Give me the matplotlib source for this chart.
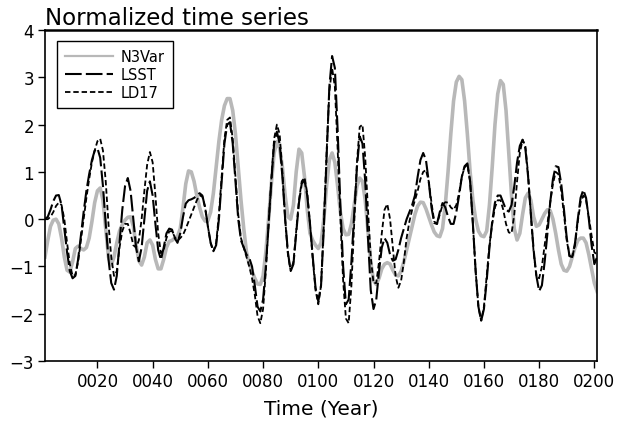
import numpy as np
from matplotlib import pyplot as plt

# yearly values (year 1..201)
years = np.arange(1, 202)

n3var = [
    -0.8, -0.45, -0.15, -0.02, 0.0, -0.1, -0.4, -0.8, -1.08, -1.12,
    -0.9, -0.62, -0.57, -0.62, -0.65, -0.6, -0.4, -0.05, 0.35, 0.6,
    0.66, 0.4, -0.2, -0.8, -0.97, -0.8, -0.5, -0.25, -0.12, -0.02,
    0.04, 0.05, -0.15, -0.55, -0.88, -0.97, -0.8, -0.5, -0.44, -0.55,
    -0.85, -1.05, -1.05, -0.85, -0.6, -0.47, -0.45, -0.4, -0.36, -0.2,
    0.25, 0.75, 1.02, 1.0, 0.8, 0.5, 0.25, 0.05, -0.04, -0.03,
    0.15, 0.55, 1.1, 1.65, 2.1, 2.4, 2.55, 2.55, 2.3, 1.8,
    1.1, 0.4, -0.2, -0.7, -0.95, -1.1, -1.25, -1.37, -1.38, -1.2,
    -0.7, 0.0, 0.75, 1.4, 1.64, 1.5, 1.1, 0.5, 0.05, 0.0,
    0.3, 1.0, 1.48, 1.4, 0.9, 0.2, -0.3, -0.45, -0.55, -0.62,
    -0.5, 0.0, 0.7, 1.25, 1.4, 1.2, 0.7, 0.15, -0.2, -0.33,
    -0.32, -0.1, 0.3, 0.7, 0.87, 0.8, 0.4, -0.25, -0.9, -1.3,
    -1.38, -1.25, -1.05, -0.95, -0.92, -0.95, -1.08, -1.18, -1.2, -1.1,
    -0.9, -0.65, -0.4, -0.15, 0.1, 0.28, 0.36, 0.35, 0.22, 0.05,
    -0.12, -0.27, -0.35, -0.37, -0.2, 0.3, 1.0, 1.8, 2.5, 2.9,
    3.02, 2.95, 2.5, 1.8, 1.0, 0.4, 0.0, -0.25, -0.35, -0.37,
    -0.25, 0.3, 1.1, 2.0, 2.65, 2.93, 2.85, 2.3, 1.4, 0.5,
    -0.2, -0.44, -0.3, 0.1, 0.45, 0.55, 0.4, 0.05, -0.15, -0.12,
    0.0, 0.12, 0.2, 0.18, 0.0, -0.3, -0.65, -0.95, -1.08, -1.1,
    -1.0, -0.8, -0.6, -0.45, -0.4, -0.4, -0.5, -0.75, -1.05, -1.35,
    -1.53,
]

lsst = [
    0.0, 0.05, 0.2, 0.38, 0.5, 0.51, 0.3, -0.2, -0.7, -1.1,
    -1.25, -1.2, -0.85, -0.35, 0.15, 0.6, 0.95, 1.25, 1.45, 1.5,
    1.3, 0.7, -0.1, -0.85, -1.35, -1.49, -1.2, -0.5, 0.2, 0.7,
    0.87, 0.6, 0.0, -0.6, -0.89, -0.6, 0.0, 0.6, 0.8, 0.5,
    -0.1, -0.65, -0.86, -0.6, -0.3, -0.2, -0.22, -0.4, -0.5, -0.3,
    0.05, 0.33, 0.4, 0.42, 0.45, 0.5, 0.55, 0.5, 0.25, -0.15,
    -0.5, -0.68, -0.55, 0.0, 0.8, 1.6, 2.0, 2.05, 1.6, 0.8,
    0.0, -0.45, -0.6, -0.75, -0.82, -1.0, -1.4, -1.85, -1.95, -1.7,
    -1.0, -0.1, 0.8, 1.6, 1.85, 1.6, 0.9, 0.0, -0.7, -1.1,
    -0.95, -0.3, 0.35, 0.75, 0.83, 0.5, -0.1, -0.8, -1.45, -1.74,
    -1.4, -0.2, 1.3, 2.8, 3.45, 3.2, 1.9, 0.3, -1.0, -1.8,
    -1.7, -0.9, 0.1, 1.1, 1.75, 1.6, 0.8, -0.4, -1.5, -1.9,
    -1.7, -1.1, -0.6, -0.4, -0.5, -0.75, -0.88, -0.85, -0.65, -0.4,
    -0.2, 0.0, 0.15, 0.3, 0.5, 0.9, 1.25, 1.4, 1.25, 0.8,
    0.25, -0.08, -0.1, 0.15, 0.34, 0.25, 0.05, -0.1, -0.1, 0.15,
    0.5, 0.9, 1.12, 1.18, 0.8, -0.1, -1.1, -1.85, -2.15, -1.9,
    -1.3, -0.6, -0.05, 0.35, 0.5, 0.5, 0.35, 0.2, 0.16, 0.3,
    0.7, 1.2, 1.55, 1.68, 1.5, 0.9, 0.1, -0.65, -1.2, -1.52,
    -1.4, -0.9, -0.3, 0.35, 0.85, 1.12, 1.1, 0.75, 0.2, -0.4,
    -0.78, -0.8, -0.5, 0.0, 0.45, 0.62, 0.45, 0.0, -0.55, -0.95,
    -0.8,
]

ld17 = [
    0.0, 0.0, 0.05, 0.15, 0.28, 0.35, 0.3, 0.0, -0.5, -0.95,
    -1.2, -1.18, -0.9, -0.45, 0.0, 0.45, 0.85, 1.2, 1.45, 1.65,
    1.7, 1.45, 0.8, -0.1, -0.8, -1.2, -1.1, -0.6, -0.25, -0.1,
    -0.1, -0.3, -0.55, -0.6, -0.45, 0.0, 0.6, 1.15, 1.42, 1.2,
    0.5, -0.3, -0.72, -0.65, -0.4, -0.26, -0.25, -0.38, -0.45, -0.4,
    -0.33, -0.2, -0.05, 0.1, 0.25, 0.4, 0.5, 0.48, 0.25, -0.15,
    -0.5, -0.68, -0.5, 0.1, 0.9, 1.7, 2.1, 2.15, 1.7, 0.9,
    0.1, -0.4, -0.6, -0.8, -1.0, -1.25, -1.6, -2.05, -2.2, -1.9,
    -1.1, -0.1, 0.85, 1.7, 2.0, 1.8, 1.0, 0.0, -0.75, -1.1,
    -0.9, -0.25, 0.4, 0.8, 0.88, 0.55, -0.1, -0.85, -1.5, -1.8,
    -1.4, -0.1, 1.4, 2.7, 3.2, 2.8, 1.5, 0.0, -1.3, -2.1,
    -2.2, -1.4, -0.1, 1.2, 1.95, 2.0, 1.3, 0.2, -0.8, -1.35,
    -1.35, -0.9, -0.3, 0.2, 0.32, 0.0, -0.6, -1.2, -1.45, -1.3,
    -0.9, -0.4, -0.05, 0.2, 0.4, 0.6, 0.85, 1.0, 1.04, 0.8,
    0.35, -0.05, -0.1, 0.1, 0.3, 0.36, 0.35, 0.25, 0.2, 0.3,
    0.55, 0.9, 1.1, 1.15, 0.8, -0.1, -1.1, -1.85, -2.15, -1.85,
    -1.2, -0.55, -0.1, 0.25, 0.4, 0.4, 0.2, -0.1, -0.28, -0.3,
    0.1, 0.8, 1.4, 1.68, 1.55, 0.95, 0.1, -0.7, -1.2, -1.25,
    -1.0, -0.55, -0.1, 0.35, 0.75, 1.0, 0.95, 0.6, 0.1, -0.45,
    -0.78, -0.8, -0.55, -0.05, 0.35, 0.5, 0.4, 0.05, -0.35, -0.7,
    -0.75,
]

xticks = np.arange(20, 201, 20)
xtick_labels = ["%04d" % v for v in xticks]

plt.rcParams['font.family'] = ['DejaVu Sans']

fig = plt.figure(figsize=(6.31, 4.31), dpi=100)
ax = fig.add_axes([0.0713, 0.160, 0.875, 0.768])

ax.plot(years, n3var, color='#b8b8b8', lw=2.6, label='N3Var')
ax.plot(years, lsst, color='black', lw=1.5, dashes=(8, 2), label='LSST')
ax.plot(years, ld17, color='black', lw=1.3, dashes=(3, 1.6), label='LD17')

ax.set_xlim(1, 201)
ax.set_ylim(-3, 4)
ax.set_xticks(xticks)
ax.set_xticklabels(xtick_labels)
ax.set_yticks(range(-3, 5))
ax.tick_params(direction='out', length=5, width=1, labelsize=12, pad=3)
for s in ax.spines.values():
    s.set_linewidth(1.2)
ax.spines['top'].set_linewidth(1.8)

ax.set_xlabel('Time (Year)', fontsize=14.5, labelpad=6)
ax.set_title('Normalized time series', loc='left', fontsize=16.5, pad=4)

leg = ax.legend(loc='upper left', bbox_to_anchor=(0.022, 0.967), fontsize=10.5,
                handlelength=3.3, fancybox=False, edgecolor='black',
                framealpha=1, borderpad=0.55, labelspacing=0.2,
                handletextpad=0.5, borderaxespad=0)
leg.get_frame().set_linewidth(1.0)
leg.get_lines()[0].set_linewidth(1.6)

fig.savefig('out.png', dpi=100)
